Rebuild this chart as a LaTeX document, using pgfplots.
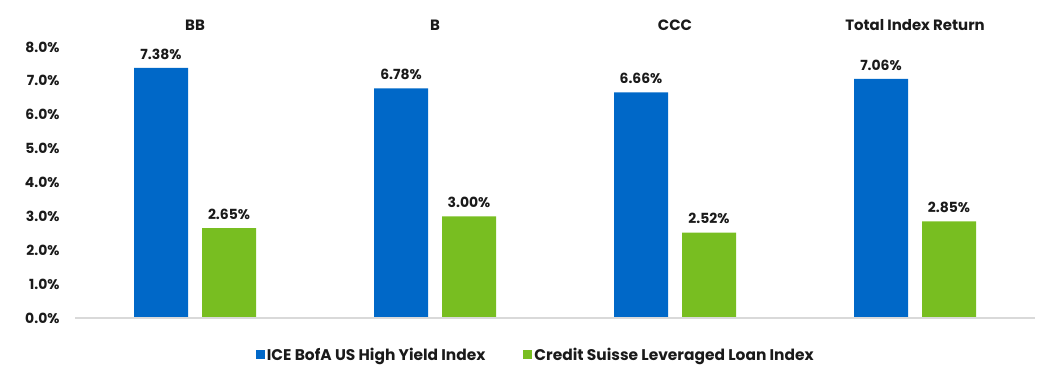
\documentclass[border=0pt]{standalone}
\usepackage{fontspec}
\setmainfont{Poppins}
\usepackage{pgfplots}
\pgfplotsset{compat=1.18}
\usetikzlibrary{calc}
\definecolor{hyblue}{HTML}{0068C8}
\definecolor{llgreen}{HTML}{78BE21}
\definecolor{basegray}{HTML}{D9D9D9}
\definecolor{txt}{HTML}{1A1A1A}
\begin{document}
\begin{tikzpicture}
\begin{axis}[
  scale only axis,
  width=960bp, height=271bp,
  xmin=-0.5, xmax=3.5,
  ymin=0, ymax=8,
  axis x line=none,
  axis y line*=left,
  y axis line style={draw=none},
  ytick={0,1,...,8},
  major tick length=0pt,
  yticklabel={\pgfmathprintnumber[fixed,fixed zerofill,precision=1]{\tick}\%},
  /pgf/number format/assume math mode=true,
  yticklabel style={font=\fontsize{14}{16}\selectfont\bfseries, text=txt, xshift=-12bp},
  ybar=14bp,
  bar width=54bp,
  xtick=data,
  nodes near coords={\pgfmathprintnumber[fixed,fixed zerofill,precision=2]{\pgfplotspointmeta}\%},
  nodes near coords style={font=\fontsize{14}{16}\selectfont\bfseries, text=txt, yshift=5bp},
  legend columns=2,
  legend style={draw=none, at={(0.48,-0.095)}, anchor=north, font=\fontsize{15.5}{17}\selectfont\bfseries, text=txt,
    nodes={inner sep=2bp},
    /tikz/every even column/.append style={column sep=36bp}},
  legend image code/.code={\fill[#1] (0bp,-4.5bp) rectangle (9bp,4.5bp);},
  clip=false,
]
\addplot[fill=hyblue, draw=none] coordinates {(0,7.38) (1,6.78) (2,6.66) (3,7.06)};
\addplot[fill=llgreen, draw=none] coordinates {(0,2.65) (1,3.00) (2,2.52) (3,2.85)};
\legend{ICE BofA US High Yield Index, Credit Suisse Leveraged Loan Index}
\draw[basegray, line width=1.5bp] (rel axis cs:0,0) -- (rel axis cs:1,0);
\node[font=\fontsize{15}{17}\selectfont\bfseries, text=txt] at (axis cs:0,8.65) {BB};
\node[font=\fontsize{15}{17}\selectfont\bfseries, text=txt] at (axis cs:1,8.65) {B};
\node[font=\fontsize{15}{17}\selectfont\bfseries, text=txt] at (axis cs:2,8.65) {CCC};
\node[font=\fontsize{15}{17}\selectfont\bfseries, text=txt] at (axis cs:3,8.65) {Total Index Return};
\end{axis}
\pgfresetboundingbox
\path ($(current axis.south west)+(-75bp,-47bp)$) rectangle ($(current axis.north east)+(4bp,47bp)$);
\end{tikzpicture}
\end{document}
